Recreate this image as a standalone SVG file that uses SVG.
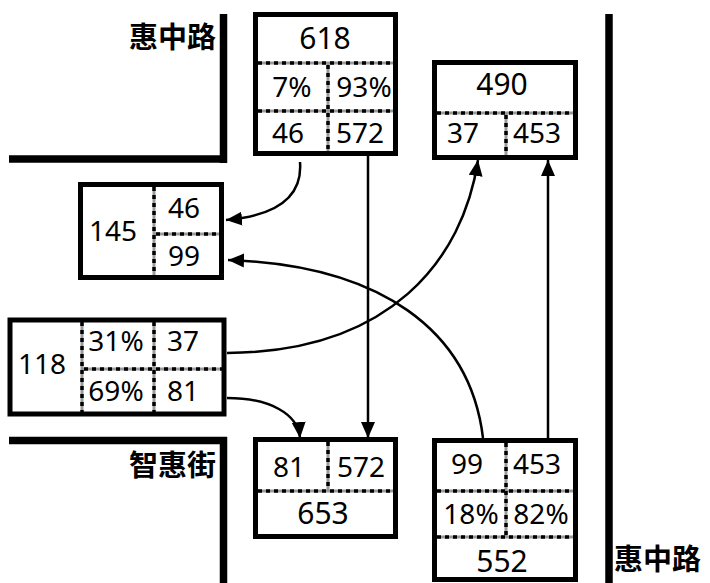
<svg xmlns="http://www.w3.org/2000/svg" width="710" height="583" viewBox="0 0 710 583">
<style>
.box{fill:#fff;stroke:#000;stroke-width:5}
.road{stroke:#000;stroke-width:7.5;fill:none}
.dg{stroke:#999;stroke-width:3;fill:none}
.dk{stroke:#000;stroke-width:3.5;stroke-dasharray:4 4;fill:none}
.t{font-family:"Noto Sans","Open Sans",sans-serif;font-size:28px;fill:#000;text-anchor:middle}
.big{font-size:30px}
.lab{font-family:"Noto Sans CJK SC","Noto Sans CJK TC",sans-serif;font-size:29px;font-weight:bold;fill:#000}
.ar{stroke:#000;stroke-width:2.5;fill:none;marker-end:url(#ah)}
</style>
<defs>
<marker id="ah" markerUnits="userSpaceOnUse" markerWidth="18" markerHeight="16" refX="16" refY="7" orient="auto">
<path d="M0,0 L16,7 L0,14 z" fill="#000"/>
</marker>
</defs>
<g id="roads">
<path class="road" d="M223.5,14 V163"/>
<path class="road" d="M9,159 H227"/>
<path class="road" d="M9,440.5 H227"/>
<path class="road" d="M223.5,437 V583"/>
<path class="road" d="M609,14 V583"/>
</g>
<g id="labels">
<text class="lab" x="216" y="48" text-anchor="end">惠中路</text>
<text class="lab" x="216" y="476" text-anchor="end">智惠街</text>
<text class="lab" x="614" y="570">惠中路</text>
</g>
<g id="node618">
<rect class="box" x="255.5" y="14.5" width="140" height="139"/>
<path class="dg" d="M258,63 H393 M258,111 H393 M328,63 V151"/>
<path class="dk" d="M258,63 H393 M258,111 H393 M328,65 V151"/>
<text class="t big" x="325" y="49">618</text>
<text class="t" x="292" y="97">7%</text>
<text class="t" x="364" y="97">93%</text>
<text class="t" x="288" y="143">46</text>
<text class="t" x="360" y="143">572</text>
</g>
<g id="node490">
<rect class="box" x="434.5" y="62.5" width="141" height="95"/>
<path class="dg" d="M437,113 H573 M506,113 V155"/>
<path class="dk" d="M437,113 H573 M506,115 V155"/>
<text class="t big" x="502" y="95">490</text>
<text class="t" x="463" y="143">37</text>
<text class="t" x="537" y="143">453</text>
</g>
<g id="node145">
<rect class="box" x="80.5" y="184.5" width="141" height="93"/>
<path class="dg" d="M154,187 V275 M154,234 H219"/>
<path class="dk" d="M154,187 V275 M156,234 H219"/>
<text class="t" x="113" y="241">145</text>
<text class="t" x="184" y="218">46</text>
<text class="t" x="184" y="266">99</text>
</g>
<g id="node118">
<rect class="box" x="10" y="320" width="214" height="94"/>
<path class="dg" d="M82,322 V412 M154,322 V412 M82,369 H222"/>
<path class="dk" d="M82,322 V412 M154,322 V412 M84,369 H222"/>
<text class="t" x="42" y="374">118</text>
<text class="t" x="116" y="351">31%</text>
<text class="t" x="183" y="351">37</text>
<text class="t" x="116" y="401">69%</text>
<text class="t" x="183" y="401">81</text>
</g>
<g id="node653">
<rect class="box" x="255.5" y="439.5" width="140" height="97"/>
<path class="dg" d="M258,491 H393 M328,442 V491"/>
<path class="dk" d="M258,491 H393 M328,442 V489"/>
<text class="t" x="289" y="477">81</text>
<text class="t" x="361" y="477">572</text>
<text class="t big" x="323" y="524">653</text>
</g>
<g id="node552">
<rect class="box" x="434.5" y="440.5" width="141" height="139"/>
<path class="dg" d="M437,491 H573 M437,537 H573 M506,443 V537"/>
<path class="dk" d="M437,491 H573 M437,537 H573 M506,443 V535"/>
<text class="t" x="467" y="474">99</text>
<text class="t" x="537" y="474">453</text>
<text class="t" x="471" y="524">18%</text>
<text class="t" x="541" y="524">82%</text>
<text class="t big" x="502" y="572">552</text>
</g>
<g id="connectors">
<path class="ar" d="M300,162 C303,200 272,216 226,220"/>
<path class="ar" d="M368,156 V438"/>
<path class="ar" d="M548,438 V160"/>
<path class="ar" d="M483,438 C470,330 380,265 228,260"/>
<path class="ar" d="M227,353 C390,352 463,260 478,160"/>
<path class="ar" d="M227,398 C270,398 298,414 300,438"/>
</g>
</svg>
